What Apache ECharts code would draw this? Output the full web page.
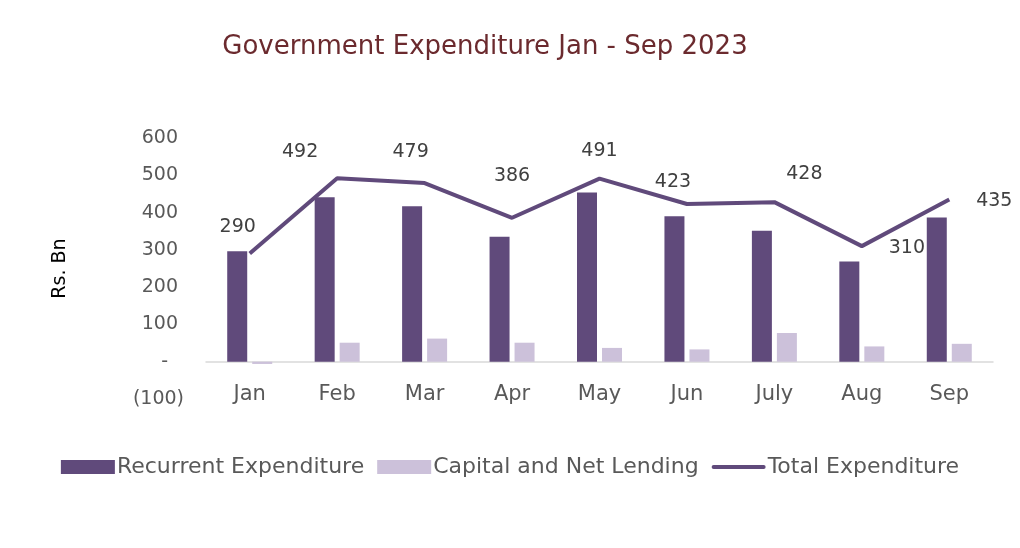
<!DOCTYPE html>
<html><head><meta charset="utf-8">
<script src="https://cdn.jsdelivr.net/npm/echarts@6/dist/echarts.min.js"></script>
<style>html,body{margin:0;padding:0;background:#fff}#c{width:1020px;height:548px}</style>
</head><body><div id="c"></div>
<script>
const categories = ['Jan','Feb','Mar','Apr','May','Jun','July','Aug','Sep'];
const recurrent = [296, 441, 417, 335, 454, 390, 351, 269, 387];
const capital = [-6, 51, 62, 51, 37, 33, 77, 41, 48];
const total = [290, 492, 479, 386, 491, 423, 428, 310, 435];
const yTicks = {min: -100, max: 600, interval: 100};
// label offsets (style only)
const labelOffsets = [[-12,-27],[-37,-26],[-14,-31],[0,-42],[0,-28],[-14,-22],[30,-28],[45,2],[45,2]];

const FONT = 'DejaVu Sans';
const chart = echarts.init(document.getElementById('c'));
chart.setOption({
  backgroundColor: '#fff',
  textStyle: {fontFamily: FONT},
  title: {
    text: 'Government Expenditure Jan - Sep 2023',
    left: 480, top: 29, textAlign: 'center',
    textStyle: {fontFamily: FONT, fontSize: 26, fontWeight: 'normal', color: '#6b2a2e'}
  },
  grid: {left: 206, right: 27, top: 138, bottom: 149, containLabel: false},
  legend: {
    top: 451, left: 'center',
    itemWidth: 54, itemHeight: 14, itemGap: 13,
    textStyle: {fontFamily: FONT, fontSize: 22, color: '#595959', padding: [0,0,0,-3]},
    data: [
      {name: 'Recurrent Expenditure', icon: 'rect'},
      {name: 'Capital and Net Lending', icon: 'rect'},
      {name: 'Total Expenditure', icon: 'path://M0,0 M0,5 L52,5 A2,2 0 0 1 52,9 L2,9 A2,2 0 0 1 2,5 Z M54,14'}
    ]
  },
  xAxis: {
    type: 'category', data: categories,
    axisLine: {onZero: true, lineStyle: {color: '#d9d9d9', width: 1.5}},
    axisTick: {show: false},
    axisLabel: {margin: -15, fontSize: 21, color: '#595959', fontFamily: FONT}
  },
  yAxis: {
    type: 'value', min: yTicks.min, max: yTicks.max, interval: yTicks.interval,
    name: 'Rs. Bn', nameLocation: 'middle', nameGap: 136, nameRotate: 90,
    nameTextStyle: {fontFamily: FONT, fontSize: 19, color: '#000'},
    splitLine: {show: false},
    axisLine: {show: false}, axisTick: {show: false},
    axisLabel: {
      margin: 22, fontSize: 19, color: '#595959', fontFamily: FONT,
      formatter: v => v === 0 ? '{z|-}' : (v < 0 ? '(' + Math.abs(v) + ')' : '{p|' + v + '}'),
      rich: {
        p: {fontSize: 19, color: '#595959', fontFamily: FONT, padding: [0, 6, 0, 0]},
        z: {fontSize: 19, color: '#595959', fontFamily: FONT, padding: [0, 16, 0, 0]}
      }
    }
  },
  series: [
    {name: 'Recurrent Expenditure', type: 'bar', data: recurrent,
     barWidth: 20, barGap: '25%', itemStyle: {color: '#604a7b'}},
    {name: 'Capital and Net Lending', type: 'bar', data: capital,
     barWidth: 20, itemStyle: {color: '#ccc1da'}},
    {name: 'Total Expenditure', type: 'line', data: total.map((v,i)=>({
        value: v,
        label: {show: true, position: 'inside', offset: labelOffsets[i]}
      })),
     symbol: 'circle', symbolSize: 0, showSymbol: true,
     lineStyle: {color: '#604a7b', width: 4}, itemStyle: {color: '#604a7b'},
     label: {show: true, fontSize: 19, color: '#404040', fontFamily: FONT},
     z: 5}
  ]
});
</script></body></html>
